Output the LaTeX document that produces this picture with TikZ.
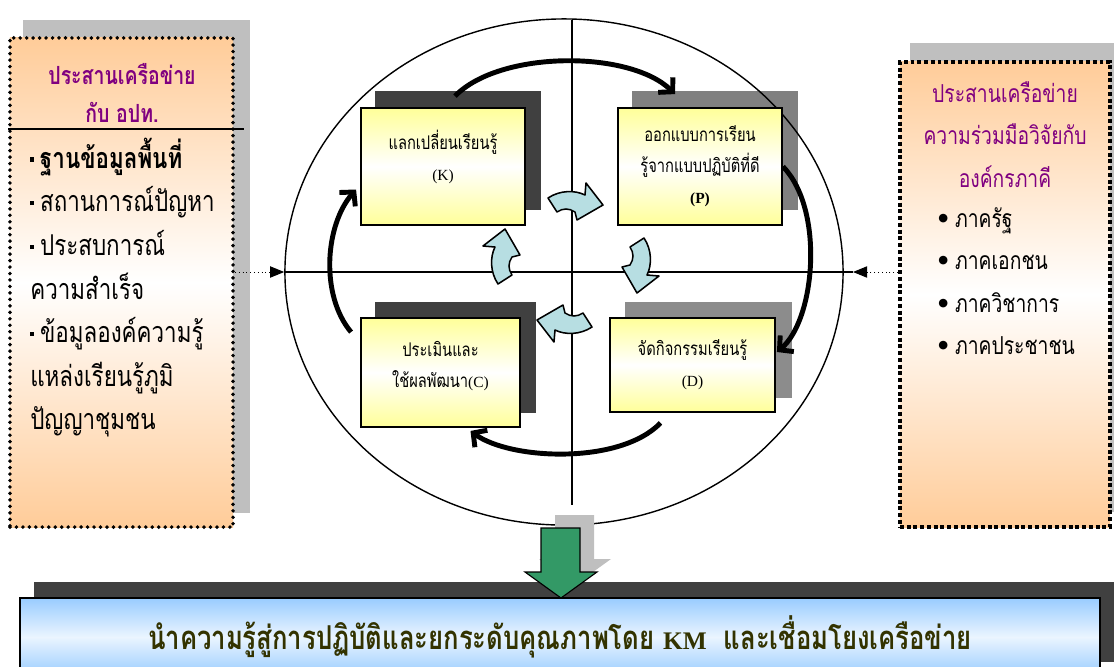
\documentclass[tikz,border=0pt]{standalone}
\usepackage{fontspec}
\setmainfont{Liberation Serif}
\newfontfamily\thaifont[Script=Thai, FakeStretch=0.78]{Loma}
\newfontfamily\symfont{DejaVu Sans}
\usetikzlibrary{positioning}
\usetikzlibrary{arrows.meta}
\usetikzlibrary{shapes.geometric}
\usetikzlibrary{backgrounds}

\definecolor{headpurple}{RGB}{128,0,128}
\definecolor{peach}{RGB}{255,204,153}
\definecolor{lightyellow}{RGB}{255,255,153}
\definecolor{skyblue}{RGB}{153,204,255}
\definecolor{turnblue}{RGB}{183,222,226}
\definecolor{downgreen}{RGB}{51,153,102}
\definecolor{bannertext}{RGB}{51,51,0}

\newcommand{\sqbullet}{\rule[0.45ex]{3pt}{3pt}\hspace{4pt}}
\newcommand{\rbullet}{\raisebox{0.45ex}{\symfont\fontsize{8}{8}\selectfont ●}\hspace{5pt}}

\tikzset{
	sidebox/.style={top color=peach, bottom color=peach, middle color=white},
	roundedge/.style={draw, line width=2.8pt, dash pattern=on 0pt off 4.6pt, line cap=round},
	squareedge/.style={draw, line width=2.8pt, dash pattern=on 2.8pt off 2pt},
	phase/.style={draw, line width=1.3pt, top color=lightyellow, bottom color=lightyellow, middle color=white, align=center, font=\thaifont\fontsize{13.4}{22}\selectfont},
	leftline/.style={anchor=north west, inner sep=0, text height=0.75cm, text depth=0.325cm, font=\thaifont\fontsize{20.4}{22}\selectfont},
	rightline/.style={inner sep=0, text height=0.75cm, text depth=0.3cm, font=\thaifont\fontsize{17.6}{19}\selectfont},
	cyclearrow/.style={line width=3.5pt, -{Straight Barb[length=7pt,width=15pt]}},
	turnarrow/.style={draw, line width=1.1pt, fill=turnblue, line join=round},
	netlink/.style={dotted, line width=0.7pt, -{Triangle[length=10pt,width=8pt]}},
}

\begin{document}
\begin{tikzpicture}[x=0.025cm,y=-0.025cm,node distance=0,on grid=false]
	\useasboundingbox (0,0) rectangle (1114,666);

	% the PDCA circle
	\node [draw, ellipse, line width=1pt, minimum width=13.95cm, minimum height=12.65cm] (cycle) at (564,272) {};
	\coordinate (rtip) at (853,272);
	\coordinate (vtop) at (572,20);
	\coordinate (vbot) at (572,505);
	\draw [line width=1pt] (cycle.west) -- (rtip);
	\draw [line width=1pt] (vtop) -- (vbot);

	% Place nodes
	\node [phase, minimum width=4.1cm, minimum height=2.925cm] (K) at (443,166.5) {แลกเปลี่ยนเรียนรู้\\{\rmfamily\fontsize{11}{22}\selectfont (K)}\\[-6pt]\mbox{}};
	\node [phase, minimum width=4.1cm, minimum height=2.925cm] (P) at (700,166.5) {ออกแบบการเรียน\\รู้จากแบบปฏิบัติที่ดี\\{\rmfamily\bfseries\fontsize{11}{22}\selectfont (P)}};
	\node [phase, minimum width=3.975cm, minimum height=2.725cm] (C) at (440.5,372.5) {ประเมินและ\\ใช้ผลพัฒนา{\rmfamily\fontsize{11}{22}\selectfont(C)}\\[-10pt]\mbox{}};
	\node [phase, minimum width=4.125cm, minimum height=2.35cm] (D) at (692.5,365) {จัดกิจกรรมเรียนรู้\\{\rmfamily\fontsize{11}{22}\selectfont (D)}};

	\draw [cyclearrow] ([shift={(12,-11)}]K.north) .. controls (500,50) and (630,50) .. ([shift={(-25,-13)}]P.north);
	\draw [cyclearrow] (P.east) .. controls (825,210) and (815,320) .. ([shift={(1,-13)}]D.east);
	\draw [cyclearrow] ([shift={(-32,10)}]D.south) .. controls (620,465) and (510,460) .. ([shift={(30,3)}]C.south);
	\draw [cyclearrow] ([shift={(-9,15)}]C.north west) .. controls (320,295) and (325,225) .. ([shift={(-4,23)}]K.west);

	% small turning arrows in the middle
	\foreach \cx/\cy/\ang in {575/205/0, 637/265/-90, 565/320/180, 505/257/90}
		\draw [turnarrow, shift={(\cx,\cy)}, rotate=\ang] (-27,-7) .. controls (-15,-15) and (0,-15) .. (10,-10) -- (11,-22) -- (28,0) -- (2,15) -- (0,7) .. controls (-6,3) and (-12,3) .. (-18,7) -- cycle;

	% left box
	\node [sidebox, roundedge, minimum width=5.575cm, minimum height=12.225cm] (leftbox) at (121.5,282.5) {};
	\node [rightline, text=headpurple, font=\thaifont\bfseries\fontsize{17.8}{19}\selectfont] (lhead1) at (122,75) {ประสานเครือข่าย};
	\node [rightline, text=headpurple, font=\thaifont\bfseries\fontsize{17.8}{19}\selectfont] (lhead2) at (122,113) {กับ อปท.};
	\draw [line width=1.2pt] ([yshift=-2.325cm]leftbox.north west) -- ++(5.9cm,0);
	\node [leftline, font=\thaifont\bfseries\fontsize{20.4}{22}\selectfont] (litem1) at (30,138) {\sqbullet ฐานข้อมูลพื้นที่};
	\node [leftline, below=of litem1.south west, anchor=north west] (litem2) {\sqbullet สถานการณ์ปัญหา};
	\node [leftline, below=of litem2.south west, anchor=north west] (litem3) {\sqbullet ประสบการณ์};
	\node [leftline, below=of litem3.south west, anchor=north west] (litem4) {ความสำเร็จ};
	\node [leftline, below=of litem4.south west, anchor=north west] (litem5) {\sqbullet ข้อมูลองค์ความรู้};
	\node [leftline, below=of litem5.south west, anchor=north west] (litem6) {แหล่งเรียนรู้ภูมิ};
	\node [leftline, below=of litem6.south west, anchor=north west] (litem7) {ปัญญาชุมชน};

	% right box
	\node [sidebox, squareedge, minimum width=5.25cm, minimum height=11.625cm] (rightbox) at (1005,294.5) {};
	\node [rightline, text=headpurple] (rhead1) at (1005,93) {ประสานเครือข่าย};
	\node [rightline, text=headpurple, below=of rhead1] (rhead2) {ความร่วมมือวิจัยกับ};
	\node [rightline, text=headpurple, below=of rhead2] (rhead3) {องค์กรภาคี};
	\node [rightline, anchor=west] (ritem1) at (938,218) {\rbullet ภาครัฐ};
	\node [rightline, below=of ritem1.south west, anchor=north west] (ritem2) {\rbullet ภาคเอกชน};
	\node [rightline, below=of ritem2.south west, anchor=north west] (ritem3) {\rbullet ภาควิชาการ};
	\node [rightline, below=of ritem3.south west, anchor=north west] (ritem4) {\rbullet ภาคประชาชน};

	\draw [netlink] (leftbox.east |- cycle.west) -- (cycle.west);
	\draw [netlink] (rightbox.west |- rtip) -- (rtip);

	% arrow down to the banner
	\fill [black!25, shift={(14,-13)}] (541,528) -- (580,528) -- (580,572) -- (597,572) -- (561,598) -- (525,572) -- (541,572) -- cycle;
	\node [draw, line width=1pt, minimum width=27cm, minimum height=1.95cm, top color=skyblue, bottom color=skyblue, middle color=skyblue!20, text=bannertext, font=\thaifont\bfseries\fontsize{23.4}{24}\selectfont] (banner) at (560,637) {นำความรู้สู่การปฏิบัติและยกระดับคุณภาพโดย {\rmfamily\fontsize{18}{20}\selectfont KM}\ \ และเชื่อมโยงเครือข่าย};
	\draw [fill=downgreen, line width=0.8pt] (541,528) -- (580,528) -- (580,572) -- (597,572) -- (561,598) -- (525,572) -- (541,572) -- cycle;

	% shadows
	\begin{scope}[on background layer]
		\foreach \n/\dx/\dy/\tone in {leftbox/15/16/black!25, rightbox/12/17/black!25, K/15/16/black!75, P/15/16/black!50, C/15/15/black!75, D/16/15/black!45, banner/15/15/black!75}
			\fill [\tone] ([shift={(\dx,-\dy)}]\n.south west) rectangle ([shift={(\dx,-\dy)}]\n.north east);
	\end{scope}
\end{tikzpicture}
\end{document}
